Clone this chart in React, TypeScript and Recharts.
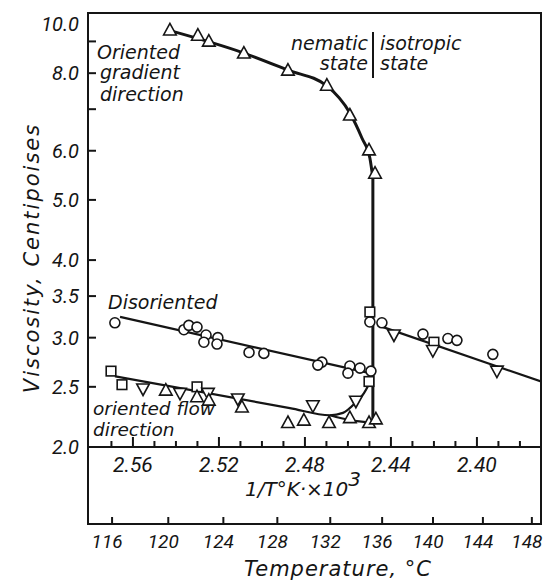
import { ComposedChart, Line, Scatter, XAxis, YAxis } from 'recharts';

// values are (1/T x 10^3, viscosity in cP)
type Pt = { u: number; v: number };
const pts = (rows: number[][]): Pt[] => rows.map(([u, v]) => ({ u, v }));

const gradientTri = pts([
  [2.5428, 9.39], [2.5298, 9.21], [2.5247, 9.01], [2.5084, 8.62], [2.4879, 8.09],
  [2.4698, 7.65], [2.4591, 6.85], [2.4502, 6.02], [2.4474, 5.52],
]);
const disorientedCircles = pts([
  [2.5684, 3.17], [2.5363, 3.09], [2.534, 3.14], [2.5302, 3.12], [2.526, 3.03],
  [2.527, 2.95], [2.5205, 3.0], [2.5209, 2.93], [2.506, 2.84], [2.4991, 2.83],
  [2.4721, 2.74], [2.474, 2.71], [2.4591, 2.7], [2.46, 2.63], [2.4544, 2.68],
  [2.4493, 2.65], [2.4498, 3.18], [2.4442, 3.17], [2.4251, 3.04], [2.4135, 2.99],
  [2.4093, 2.97], [2.3926, 2.82],
]);
const squares = pts([
  [2.5702, 2.65], [2.5651, 2.52], [2.5302, 2.5], [2.4498, 3.3], [2.4502, 2.55], [2.42, 2.95],
]);
const downTri = pts([
  [2.5553, 2.48], [2.5381, 2.44], [2.5251, 2.44], [2.5112, 2.39], [2.4763, 2.33],
  [2.4563, 2.37], [2.4386, 3.03], [2.4205, 2.86], [2.3907, 2.65],
]);
const flowTri = pts([
  [2.5447, 2.47], [2.5302, 2.41], [2.5247, 2.38], [2.5093, 2.32], [2.4879, 2.19],
  [2.4805, 2.21], [2.4688, 2.19], [2.4591, 2.23], [2.4502, 2.19], [2.447, 2.22],
]);

// hand-drawn fit lines
const gradientFit = pts([
  [2.5419, 9.35], [2.5084, 8.62], [2.4879, 8.09], [2.4698, 7.63], [2.4591, 6.9],
  [2.4535, 6.29], [2.4498, 5.84], [2.4484, 5.42],
]);
const transitionFit = pts([[2.4484, 5.42], [2.4484, 2.18]]);
const disorientedFit = pts([[2.566, 3.24], [2.4498, 2.63]]);
const isotropicFit = pts([[2.446, 3.14], [2.3702, 2.55]]);
const flowFit = pts([
  [2.5684, 2.6], [2.487, 2.31], [2.4684, 2.25], [2.4623, 2.27], [2.4563, 2.36],
  [2.4526, 2.44], [2.4498, 2.54],
]);
const flowLowFit = pts([[2.4684, 2.25], [2.4591, 2.21], [2.4484, 2.19]]);

// axes
const invDomain = [2.3702, 2.5809];
const viscDomain = [2, 10];
const invTicks = [2.38, 2.39, 2.4, 2.41, 2.42, 2.43, 2.44, 2.45, 2.46, 2.47, 2.48, 2.49, 2.5, 2.51, 2.52, 2.53, 2.54, 2.55, 2.56, 2.57];
const invLabels = [2.56, 2.52, 2.48, 2.44, 2.4];
const tempLabels = [116, 120, 124, 128, 132, 136, 140, 144, 148];
const viscTicks = [2, 2.5, 3, 3.5, 4, 5, 6, 7, 8, 9, 10];
const viscLabels = [2, 2.5, 3, 3.5, 4, 5, 6, 8, 10];

const INK = '#151515';
const WORD_FONT = "'DejaVu Sans', sans-serif";
const NUM_FONT = "Roboto, sans-serif";

// the chart covers the whole page, so these are page pixels
const W = 548;
const H = 580;
const LEFT = 88;
const RIGHT = 541;
const TOP = 13;
const BOTTOM = 447;
const LOWER = 524;

const ViscTick = ({ x, y, payload }: any) => {
  const val = payload.value as number;
  const labelled = viscLabels.some((l) => Math.abs(l - val) < 1e-6);
  return (
    <g>
      <line x1={x} x2={x + 8} y1={y} y2={y} stroke={INK} strokeWidth={2} />
      {labelled && (
        <text x={x - 9} y={Math.max(y, TOP + 11)} dy="0.36em" textAnchor="end" fontFamily={NUM_FONT} fontStyle="italic" fontSize={20} fill={INK}>
          {val.toFixed(1)}
        </text>
      )}
    </g>
  );
};

const InvTick = ({ x, y, payload }: any) => {
  const val = payload.value as number;
  const major = invLabels.some((l) => Math.abs(l - val) < 1e-6);
  return (
    <g>
      <line x1={x} x2={x} y1={y} y2={y - (major ? 10 : 6)} stroke={INK} strokeWidth={2} />
      {major && (
        <text x={x} y={y + 25} textAnchor="middle" fontFamily={NUM_FONT} fontStyle="italic" fontSize={21} fill={INK}>
          {val.toFixed(2)}
        </text>
      )}
    </g>
  );
};

const TempTick = ({ x, y, payload }: any) => {
  const t = Math.round(1000 / payload.value - 273.15);
  return (
    <g>
      <line x1={x} x2={x} y1={y} y2={y - 7} stroke={INK} strokeWidth={2} />
      <text x={x - 5} y={y + 24} textAnchor="middle" fontFamily={NUM_FONT} fontStyle="italic" fontSize={19} fill={INK}>
        {t}
      </text>
    </g>
  );
};

const mark = { fill: '#fff', stroke: INK, strokeWidth: 1.6 };
const Circle = (p: any) => <circle cx={p.cx} cy={p.cy} r={5} {...mark} />;
const Square = (p: any) => <rect x={p.cx - 4.8} y={p.cy - 4.8} width={9.6} height={9.6} {...mark} />;
const TriUp = (p: any) => (
  <polygon points={`${p.cx},${p.cy - 6.5} ${p.cx - 6.3},${p.cy + 5} ${p.cx + 6.3},${p.cy + 5}`} {...mark} />
);
const TriDown = (p: any) => (
  <polygon points={`${p.cx - 6.3},${p.cy - 5} ${p.cx + 6.3},${p.cy - 5} ${p.cx},${p.cy + 6.5}`} {...mark} />
);

const word = { fontFamily: WORD_FONT, fontStyle: 'italic' as const, fontSize: 19, fill: INK };

export default function App() {
  const axisLine = { stroke: INK, strokeWidth: 2 };
  const fit = (data: Pt[], width: number, type: 'monotone' | 'linear' = 'linear') => (
    <Line
      xAxisId="inv"
      yAxisId="visc"
      data={data}
      dataKey="v"
      type={type}
      stroke={INK}
      strokeWidth={width}
      dot={false}
      activeDot={false}
      isAnimationActive={false}
    />
  );
  // both x axes share the same 1/T domain, so a series may sit on either
  const marks = (data: Pt[], shape: any, xAxisId = 'inv') => (
    <Scatter xAxisId={xAxisId} yAxisId="visc" data={data} dataKey="v" shape={shape} isAnimationActive={false} />
  );

  return (
    <div style={{ position: 'absolute', left: 0, top: 0, width: W, height: H, background: '#fff' }}>
      <ComposedChart width={W} height={H} margin={{ top: TOP, right: W - RIGHT, bottom: 0, left: 0 }}>
        <XAxis
          xAxisId="inv"
          dataKey="u"
          type="number"
          domain={invDomain}
          reversed
          allowDataOverflow
          ticks={invTicks}
          interval={0}
          tick={<InvTick />}
          tickLine={false}
          tickSize={0}
          tickMargin={0}
          height={LOWER - BOTTOM}
          axisLine={axisLine}
        />
        <XAxis
          xAxisId="temp"
          dataKey="u"
          type="number"
          domain={invDomain}
          reversed
          allowDataOverflow
          ticks={tempLabels.map((t) => 1000 / (t + 273.15))}
          interval={0}
          tick={<TempTick />}
          tickLine={false}
          tickSize={0}
          tickMargin={0}
          height={H - LOWER}
          axisLine={axisLine}
        />
        <YAxis
          yAxisId="visc"
          dataKey="v"
          type="number"
          scale="log"
          domain={viscDomain}
          allowDataOverflow
          ticks={viscTicks}
          interval={0}
          tick={<ViscTick />}
          tickLine={false}
          tickSize={0}
          tickMargin={0}
          width={LEFT}
          axisLine={axisLine}
        />

        {fit(gradientFit, 3, 'monotone')}
        {fit(transitionFit, 3)}
        {fit(disorientedFit, 2.2)}
        {fit(isotropicFit, 2.2)}
        {fit(flowFit, 2.2, 'monotone')}
        {fit(flowLowFit, 2.2, 'monotone')}

        {marks(disorientedCircles, Circle)}
        {marks(squares, Square)}
        {marks(downTri, TriDown)}
        {marks(flowTri, TriUp, 'temp')}
        {marks(gradientTri, TriUp)}
      </ComposedChart>

      <svg width={W} height={H} style={{ position: 'absolute', left: 0, top: 0, zIndex: 2, pointerEvents: 'none' }}>
        {/* rest of the frame: top and right of the plot, sides of the lower scale box */}
        <rect x={LEFT} y={TOP} width={RIGHT - LEFT} height={LOWER - TOP} fill="none" stroke={INK} strokeWidth={2} />

        <text x={97} y={59} {...word}>Oriented</text>
        <text x={100} y={79} {...word}>gradient</text>
        <text x={100} y={101} {...word}>direction</text>

        <text x={368} y={50} textAnchor="end" {...word}>nematic</text>
        <text x={368} y={70} textAnchor="end" {...word}>state</text>
        <text x={380} y={50} {...word}>isotropic</text>
        <text x={380} y={70} {...word}>state</text>
        <line x1={373} x2={373} y1={32} y2={78} stroke={INK} strokeWidth={2} />

        <text x={108} y={309} {...word}>Disoriented</text>
        <text x={93} y={415} {...word} fontSize={18.5}>oriented flow</text>
        <text x={93} y={436} {...word} fontSize={18.5}>direction</text>

        <text x={303} y={496} textAnchor="middle" {...word} fontSize={20}>
          1/T°K·×10<tspan dy={-10} fontSize={20}>3</tspan>
        </text>

        <text x={338} y={576} textAnchor="middle" {...word} fontSize={21} letterSpacing={1}>
          Temperature, °C
        </text>

        <text
          transform="translate(32,258) rotate(-90)"
          textAnchor="middle"
          dy="0.35em"
          {...word}
          fontSize={21}
          letterSpacing={2}
        >
          Viscosity, Centipoises
        </text>
      </svg>
    </div>
  );
}
